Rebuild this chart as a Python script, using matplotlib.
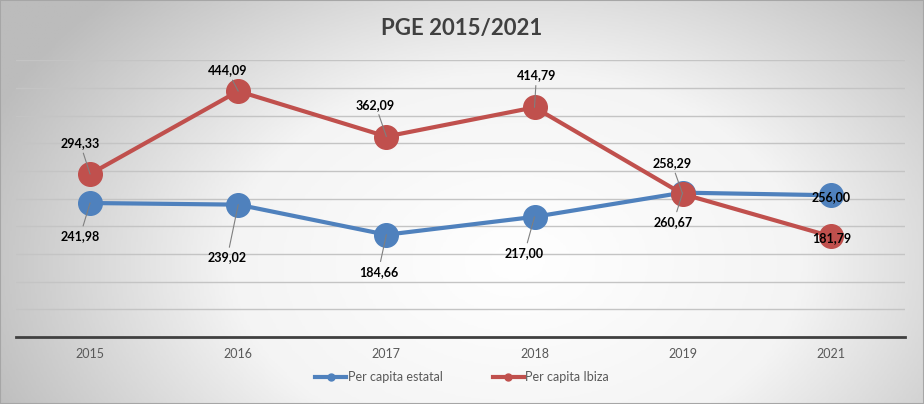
import numpy as np
import matplotlib
matplotlib.use('Agg')
import matplotlib.pyplot as plt
from matplotlib.lines import Line2D
from matplotlib.colors import LinearSegmentedColormap

plt.rcParams['font.family'] = ['Lato', 'DejaVu Sans']

# data
years = ['2015', '2016', '2017', '2018', '2019', '2021']
estatal = [241.98, 239.02, 184.66, 217.00, 260.67, 256.00]
ibiza = [294.33, 444.09, 362.09, 414.79, 258.29, 181.79]

blue = '#4F81BD'
red = '#C0504D'

fig = plt.figure(figsize=(9.24, 4.04), dpi=100)

# radial gradient background
bg = fig.add_axes([0, 0, 1, 1], zorder=-10)
xx, yy = np.meshgrid(np.linspace(0, 1, 300), np.linspace(0, 1, 150))
r = np.sqrt(((xx - 0.56) / 0.62) ** 2 + ((yy - 0.35) / 0.95) ** 2)
r = np.clip(r, 0, 1)
cmap = LinearSegmentedColormap.from_list('bg', ['#ffffff', '#f4f4f4', '#bcbcbc'])
bg.imshow(r, cmap=cmap, extent=[0, 1, 0, 1], origin='lower', aspect='auto', vmin=0, vmax=1)
bg.plot([0, 1, 1, 0, 0], [0, 0, 1, 1, 0], color='#a6a6a6', lw=1.5, transform=bg.transAxes)
bg.set_xlim(0, 1)
bg.set_ylim(0, 1)
bg.axis('off')

ax = fig.add_axes([0.0173, 0.166, 0.962, 0.685])
ax.patch.set_alpha(0)
x = np.arange(len(years))

ax.plot(x, estatal, color=blue, lw=3, marker='o', ms=17, zorder=3, label='Per capita estatal')
ax.plot(x, ibiza, color=red, lw=3, marker='o', ms=17, zorder=4, label='Per capita Ibiza')

ax.set_ylim(0, 500)
ax.set_xlim(-0.5, len(years) - 0.5)
ax.set_yticks(np.arange(50, 501, 50))
ax.yaxis.grid(True, color='#c4c4c4', lw=1)
ax.set_axisbelow(True)
ax.tick_params(axis='y', left=False, labelleft=False)
ax.set_xticks(x)
ax.set_xticklabels(years, fontsize=9, color='#595959')
ax.tick_params(axis='x', length=0, pad=8)
for s in ['top', 'right', 'left']:
    ax.spines[s].set_visible(False)
ax.spines['bottom'].set_color('#404040')
ax.spines['bottom'].set_linewidth(2)

# data labels (offsets in points)
red_off = [(-7.2, 22.3), (-7.9, 15.1), (-7.9, 23), (1.4, 23), (-7.9, 22.3), (0.7, -1.4)]
blue_off = [(-7.2, -23.8), (-7.9, -38), (-5.8, -26.6), (-7.2, -26), (-6.5, -21), (0, -1.4)]

def fmt(v):
    return f'{v:.2f}'.replace('.', ',')

for vals, offs, z in [(estatal, blue_off, 5), (ibiza, red_off, 6)]:
    for i, (v, off) in enumerate(zip(vals, offs)):
        far = abs(off[1]) > 5
        ax.annotate(fmt(v), (i, v), xytext=off, textcoords='offset points',
                    ha='center', va='center', fontsize=9, fontweight='bold',
                    color='black', zorder=z,
                    arrowprops=dict(arrowstyle='-', color='#7f7f7f', lw=0.8,
                                    shrinkA=1, shrinkB=0) if far else None)

fig.text(0.5, 0.93, 'PGE 2015/2021', ha='center', va='center', fontsize=16,
         fontweight='bold', color='#404040')

handles = [Line2D([], [], color=blue, lw=3, marker='o', ms=5),
           Line2D([], [], color=red, lw=3, marker='o', ms=5)]
fig.legend(handles, ['Per capita estatal', 'Per capita Ibiza'], loc='center',
           bbox_to_anchor=(0.5, 0.067), ncol=2, frameon=False, fontsize=9,
           labelcolor='#595959', handlelength=2.5, handletextpad=0.1,
           columnspacing=4.0)

fig.savefig('out.png', dpi=100)
